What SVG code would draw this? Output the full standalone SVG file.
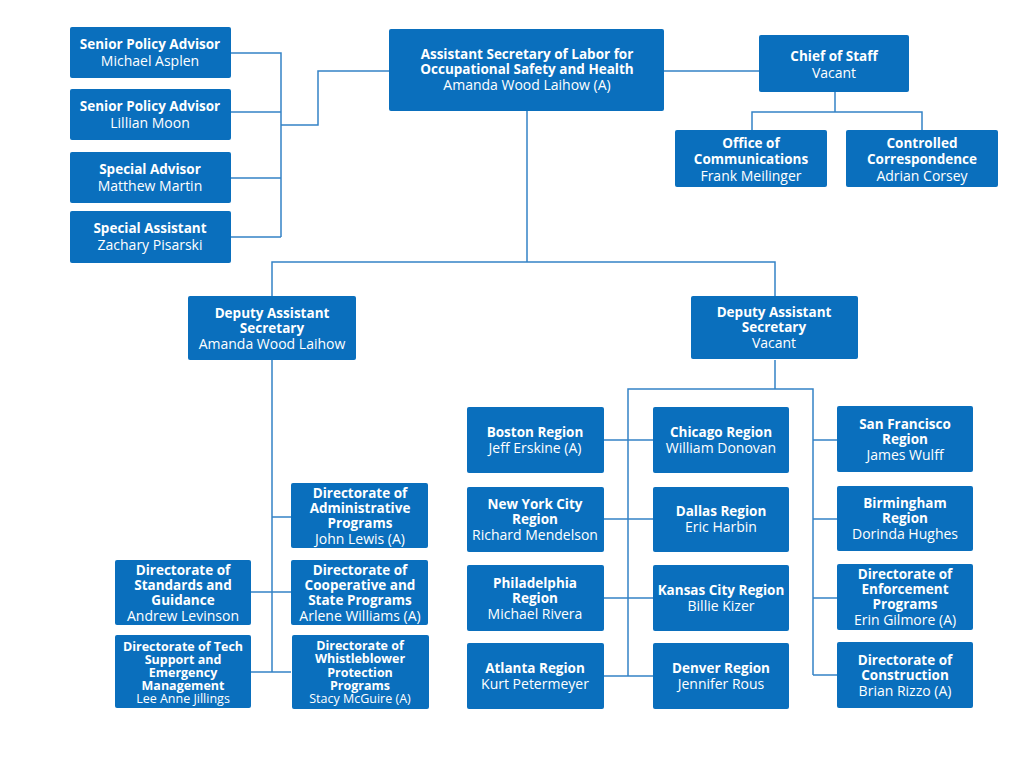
<svg xmlns="http://www.w3.org/2000/svg" width="1024" height="768" viewBox="0 0 1024 768">
<style>
rect{fill:#0a6fbd;rx:2}
text{font-family:"Open Sans","Noto Sans",sans-serif;font-size:14px;fill:#fff;text-anchor:middle;dominant-baseline:central}
.b{font-weight:bold;font-size:13.5px}
.t text{font-size:12.5px}
#conn path{fill:none;stroke:#3583c6;stroke-width:1.5}
</style>
<rect width="1024" height="768" style="fill:#fff"/>
<g id="conn">
<path d="M231 53H281V237M231 112H281M231 178H281M231 237H281M281 125H318V71H389"/>
<path d="M664 71H759M835 92V112M752 130V112H922V130"/>
<path d="M527 111V262M272 296V262H775V296"/>
<path d="M272 360V672M272 517H291M251 592H291M251 672H291"/>
<path d="M775 360V389M628 676V389H813V675"/>
<path d="M604 440H653M604 519H653M604 598H653M604 676H653"/>
<path d="M813 440H837M813 519H837M813 598H837M813 675H837"/>
</g>
<g id="n1"><rect x="70" y="27" width="161" height="51"/><text x="150" y="44" class="b">Senior Policy Advisor</text><text x="150" y="60">Michael Asplen</text></g>
<g id="n2"><rect x="70" y="89" width="161" height="51"/><text x="150" y="106" class="b">Senior Policy Advisor</text><text x="150" y="122">Lillian Moon</text></g>
<g id="n3"><rect x="70" y="152" width="161" height="51"/><text x="150" y="169" class="b">Special Advisor</text><text x="150" y="185">Matthew Martin</text></g>
<g id="n4"><rect x="70" y="211" width="161" height="52"/><text x="150" y="228" class="b">Special Assistant</text><text x="150" y="244">Zachary Pisarski</text></g>
<g id="asl"><rect x="389" y="29" width="275" height="82"/><text x="527" y="54" class="b">Assistant Secretary of Labor for</text><text x="527" y="69" class="b">Occupational Safety and Health</text><text x="527" y="84">Amanda Wood Laihow (A)</text></g>
<g id="cos"><rect x="759" y="35" width="150" height="57"/><text x="834" y="56" class="b">Chief of Staff</text><text x="834" y="72">Vacant</text></g>
<g id="occ"><rect x="675" y="130" width="152" height="57"/><text x="751" y="143" class="b">Office of</text><text x="751" y="159" class="b">Communications</text><text x="751" y="175">Frank Meilinger</text></g>
<g id="cc"><rect x="846" y="130" width="152" height="57"/><text x="922" y="143" class="b">Controlled</text><text x="922" y="159" class="b">Correspondence</text><text x="922" y="175">Adrian Corsey</text></g>
<g id="das1"><rect x="188" y="296" width="168" height="64"/><text x="272" y="313" class="b">Deputy Assistant</text><text x="272" y="328" class="b">Secretary</text><text x="272" y="343">Amanda Wood Laihow</text></g>
<g id="das2"><rect x="691" y="296" width="167" height="63"/><text x="774" y="312" class="b">Deputy Assistant</text><text x="774" y="327" class="b">Secretary</text><text x="774" y="342">Vacant</text></g>
<g id="dap"><rect x="291" y="483" width="137" height="65"/><text x="360" y="493" class="b">Directorate of</text><text x="360" y="508" class="b">Administrative</text><text x="360" y="523" class="b">Programs</text><text x="360" y="538">John Lewis (A)</text></g>
<g id="dcsp"><rect x="291" y="560" width="137" height="65"/><text x="360" y="570" class="b">Directorate of</text><text x="360" y="585" class="b">Cooperative and</text><text x="360" y="600" class="b">State Programs</text><text x="360" y="615">Arlene Williams (A)</text></g>
<g id="dwpp" class="t"><rect x="292" y="635" width="137" height="74"/><text x="360" y="645" class="b">Directorate of</text><text x="360" y="658" class="b">Whistleblower</text><text x="360" y="672" class="b">Protection</text><text x="360" y="685" class="b">Programs</text><text x="360" y="698">Stacy McGuire (A)</text></g>
<g id="dsg"><rect x="115" y="560" width="136" height="65"/><text x="183" y="570" class="b">Directorate of</text><text x="183" y="585" class="b">Standards and</text><text x="183" y="600" class="b">Guidance</text><text x="183" y="615">Andrew Levinson</text></g>
<g id="dts" class="t"><rect x="115" y="635" width="136" height="73"/><text x="183" y="646" class="b">Directorate of Tech</text><text x="183" y="659" class="b">Support and</text><text x="183" y="672" class="b">Emergency</text><text x="183" y="685" class="b">Management</text><text x="183" y="698">Lee Anne Jillings</text></g>
<g id="bos"><rect x="467" y="407" width="137" height="66"/><text x="535" y="432" class="b">Boston Region</text><text x="535" y="447">Jeff Erskine (A)</text></g>
<g id="chi"><rect x="653" y="407" width="136" height="66"/><text x="721" y="432" class="b">Chicago Region</text><text x="721" y="447">William Donovan</text></g>
<g id="nyc"><rect x="467" y="487" width="137" height="65"/><text x="535" y="504" class="b">New York City</text><text x="535" y="519" class="b">Region</text><text x="535" y="534">Richard Mendelson</text></g>
<g id="dal"><rect x="653" y="487" width="136" height="65"/><text x="721" y="511" class="b">Dallas Region</text><text x="721" y="526">Eric Harbin</text></g>
<g id="phi"><rect x="467" y="565" width="137" height="66"/><text x="535" y="583" class="b">Philadelphia</text><text x="535" y="598" class="b">Region</text><text x="535" y="613">Michael Rivera</text></g>
<g id="kc"><rect x="653" y="565" width="136" height="66"/><text x="721" y="590" class="b">Kansas City Region</text><text x="721" y="605">Billie Kizer</text></g>
<g id="atl"><rect x="467" y="643" width="137" height="66"/><text x="535" y="668" class="b">Atlanta Region</text><text x="535" y="683">Kurt Petermeyer</text></g>
<g id="den"><rect x="653" y="643" width="136" height="66"/><text x="721" y="668" class="b">Denver Region</text><text x="721" y="683">Jennifer Rous</text></g>
<g id="sf"><rect x="837" y="406" width="136" height="66"/><text x="905" y="424" class="b">San Francisco</text><text x="905" y="439" class="b">Region</text><text x="905" y="454">James Wulff</text></g>
<g id="bir"><rect x="837" y="486" width="136" height="65"/><text x="905" y="503" class="b">Birmingham</text><text x="905" y="518" class="b">Region</text><text x="905" y="533">Dorinda Hughes</text></g>
<g id="dep"><rect x="837" y="564" width="136" height="66"/><text x="905" y="574" class="b">Directorate of</text><text x="905" y="589" class="b">Enforcement</text><text x="905" y="604" class="b">Programs</text><text x="905" y="619">Erin Gilmore (A)</text></g>
<g id="dc"><rect x="837" y="642" width="136" height="66"/><text x="905" y="660" class="b">Directorate of</text><text x="905" y="675" class="b">Construction</text><text x="905" y="690">Brian Rizzo (A)</text></g>
</svg>
